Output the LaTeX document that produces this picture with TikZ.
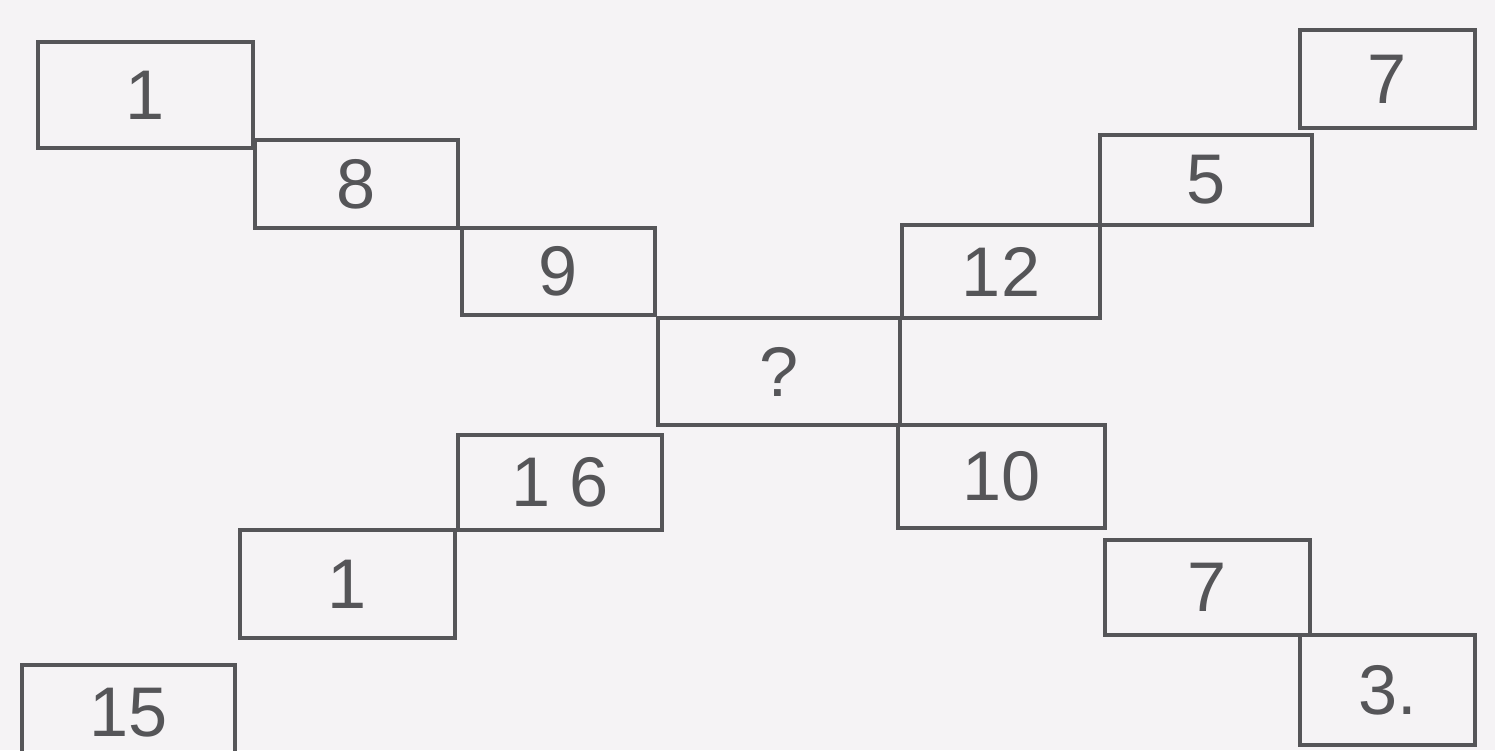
\documentclass[tikz,border=0pt]{standalone}
\usepackage{fontspec}
\setmainfont{Liberation Sans}
\definecolor{paper}{RGB}{245,243,245}
\definecolor{pencil}{RGB}{85,85,88}
\begin{document}
\begin{tikzpicture}[
  cell/.style={draw=pencil, line width=0.9pt, inner sep=0pt, text=pencil,
    font=\fontsize{20}{24}\selectfont}
]
\useasboundingbox (0,0) rectangle (14.95,7.5);
\clip (0,0) rectangle (14.95,7.5);
\fill[paper] (0,0) rectangle (14.95,7.5);
% left upper staircase
\node[cell, minimum width=2.15cm, minimum height=1.06cm] (a) at (1.455,6.55) {1};
\node[cell, minimum width=2.03cm, minimum height=0.88cm] (b) at (3.565,5.66) {8};
\node[cell, minimum width=1.93cm, minimum height=0.87cm] (c) at (5.585,4.785) {9};
% centre
\node[cell, minimum width=2.42cm, minimum height=1.07cm] (d) at (7.79,3.785) {?};
% left lower staircase
\node[cell, minimum width=2.04cm, minimum height=0.95cm] (e) at (5.60,2.675) {1 6};
\node[cell, minimum width=2.15cm, minimum height=1.08cm] (f) at (3.475,1.66) {1};
\node[cell, minimum width=2.13cm, minimum height=0.95cm] (g) at (1.285,0.375) {15};
% right upper staircase
\node[cell, minimum width=1.98cm, minimum height=0.93cm] (h) at (10.01,4.785) {12};
\node[cell, minimum width=2.12cm, minimum height=0.90cm] (i) at (12.06,5.70) {5};
\node[cell, minimum width=1.75cm, minimum height=0.98cm] (j) at (13.875,6.71) {7};
% right lower staircase
\node[cell, minimum width=2.07cm, minimum height=1.03cm] (k) at (10.015,2.735) {10};
\node[cell, minimum width=2.05cm, minimum height=0.95cm] (l) at (12.075,1.625) {7};
\node[cell, minimum width=1.75cm, minimum height=1.10cm] (m) at (13.875,0.60) {3.};
\end{tikzpicture}
\end{document}
